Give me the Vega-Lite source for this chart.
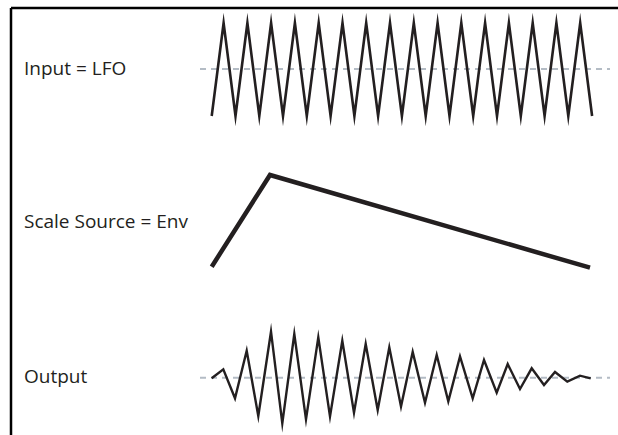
{
  "$schema": "https://vega.github.io/schema/vega-lite/v6.json",
  "width": 618,
  "height": 435,
  "autosize": "none",
  "padding": 0,
  "background": "white",
  "config": {"view": {"stroke": null}},
  "datasets": {
    "border": [
      {"x": 11, "x2": 618, "y": 8, "y2": 8},
      {"x": 11, "x2": 11, "y": 8, "y2": 435}
    ],
    "zero": [
      {"x": 200, "x2": 610, "y": 69},
      {"x": 200, "x2": 610, "y": 377.7}
    ],
    "lfo": [
      {"t": 211.7, "v": 116}, {"t": 223.6, "v": 23}, {"t": 235.5, "v": 116}, {"t": 247.4, "v": 23},
      {"t": 259.3, "v": 116}, {"t": 271.1, "v": 23}, {"t": 283.0, "v": 116}, {"t": 294.9, "v": 23},
      {"t": 306.8, "v": 116}, {"t": 318.7, "v": 23}, {"t": 330.6, "v": 116}, {"t": 342.5, "v": 23},
      {"t": 354.4, "v": 116}, {"t": 366.2, "v": 23}, {"t": 378.1, "v": 116}, {"t": 390.0, "v": 23},
      {"t": 401.9, "v": 116}, {"t": 413.8, "v": 23}, {"t": 425.7, "v": 116}, {"t": 437.6, "v": 23},
      {"t": 449.5, "v": 116}, {"t": 461.3, "v": 23}, {"t": 473.2, "v": 116}, {"t": 485.1, "v": 23},
      {"t": 497.0, "v": 116}, {"t": 508.9, "v": 23}, {"t": 520.8, "v": 116}, {"t": 532.7, "v": 23},
      {"t": 544.6, "v": 116}, {"t": 556.4, "v": 23}, {"t": 568.3, "v": 116}, {"t": 580.2, "v": 23},
      {"t": 592.1, "v": 116}
    ],
    "env": [
      {"t": 211.7, "v": 266.7}, {"t": 270, "v": 175}, {"t": 590, "v": 267.7}
    ],
    "out": [
      {"t": 211.7, "v": 378.3}, {"t": 223.3, "v": 369.3}, {"t": 235, "v": 398.3}, {"t": 246.7, "v": 350.7},
      {"t": 258.3, "v": 416}, {"t": 271, "v": 331.7}, {"t": 282.3, "v": 423.3}, {"t": 294.3, "v": 334},
      {"t": 306, "v": 419.3}, {"t": 318.3, "v": 337.3}, {"t": 330, "v": 416.5}, {"t": 342.3, "v": 340.7},
      {"t": 354, "v": 412.7}, {"t": 365.7, "v": 344}, {"t": 377.7, "v": 410}, {"t": 389.3, "v": 347.3},
      {"t": 401, "v": 406.5}, {"t": 412.7, "v": 352}, {"t": 425, "v": 402.7}, {"t": 436.7, "v": 355},
      {"t": 448.3, "v": 401.3}, {"t": 460, "v": 356.5}, {"t": 472.7, "v": 398.3}, {"t": 484, "v": 360},
      {"t": 496.7, "v": 392.7}, {"t": 507.7, "v": 364}, {"t": 520, "v": 389}, {"t": 531.7, "v": 368.3},
      {"t": 544, "v": 385}, {"t": 555, "v": 372}, {"t": 567.3, "v": 381.7}, {"t": 580, "v": 375.7},
      {"t": 590.7, "v": 378.3}
    ],
    "labels": [
      {"x": 24, "y": 69, "label": "Input = LFO"},
      {"x": 24, "y": 222, "label": "Scale Source = Env"},
      {"x": 24, "y": 377, "label": "Output"}
    ]
  },
  "layer": [
    {
      "data": {"name": "zero"},
      "mark": {"type": "rule", "color": "#b4bcc5", "strokeWidth": 2, "strokeDash": [6, 5]},
      "encoding": {
        "x": {"field": "x", "type": "quantitative", "scale": {"domain": [0, 618], "nice": false, "zero": false}, "axis": null},
        "x2": {"field": "x2"},
        "y": {"field": "y", "type": "quantitative", "scale": {"domain": [0, 435], "reverse": true, "nice": false, "zero": false}, "axis": null}
      }
    },
    {
      "data": {"name": "border"},
      "mark": {"type": "rule", "color": "#000000", "strokeWidth": 2.5},
      "encoding": {
        "x": {"field": "x", "type": "quantitative", "scale": {"domain": [0, 618], "nice": false, "zero": false}, "axis": null},
        "x2": {"field": "x2"},
        "y": {"field": "y", "type": "quantitative", "scale": {"domain": [0, 435], "reverse": true, "nice": false, "zero": false}, "axis": null},
        "y2": {"field": "y2"}
      }
    },
    {
      "data": {"name": "lfo"},
      "mark": {"type": "line", "color": "#231f20", "strokeWidth": 2.6, "strokeJoin": "miter", "strokeMiterLimit": 20},
      "encoding": {
        "x": {"field": "t", "type": "quantitative", "scale": {"domain": [0, 618], "nice": false, "zero": false}, "axis": null},
        "y": {"field": "v", "type": "quantitative", "scale": {"domain": [0, 435], "reverse": true, "nice": false, "zero": false}, "axis": null}
      }
    },
    {
      "data": {"name": "env"},
      "mark": {"type": "line", "color": "#231f20", "strokeWidth": 4.5, "strokeJoin": "miter"},
      "encoding": {
        "x": {"field": "t", "type": "quantitative", "scale": {"domain": [0, 618], "nice": false, "zero": false}, "axis": null},
        "y": {"field": "v", "type": "quantitative", "scale": {"domain": [0, 435], "reverse": true, "nice": false, "zero": false}, "axis": null}
      }
    },
    {
      "data": {"name": "out"},
      "mark": {"type": "line", "color": "#231f20", "strokeWidth": 2.4, "strokeJoin": "miter", "strokeMiterLimit": 20},
      "encoding": {
        "x": {"field": "t", "type": "quantitative", "scale": {"domain": [0, 618], "nice": false, "zero": false}, "axis": null},
        "y": {"field": "v", "type": "quantitative", "scale": {"domain": [0, 435], "reverse": true, "nice": false, "zero": false}, "axis": null}
      }
    },
    {
      "data": {"name": "labels"},
      "mark": {"type": "text", "align": "left", "baseline": "middle", "font": "Open Sans", "fontSize": 19, "color": "#231f20"},
      "encoding": {
        "x": {"field": "x", "type": "quantitative", "scale": {"domain": [0, 618], "nice": false, "zero": false}, "axis": null},
        "y": {"field": "y", "type": "quantitative", "scale": {"domain": [0, 435], "reverse": true, "nice": false, "zero": false}, "axis": null},
        "text": {"field": "label"}
      }
    }
  ]
}
